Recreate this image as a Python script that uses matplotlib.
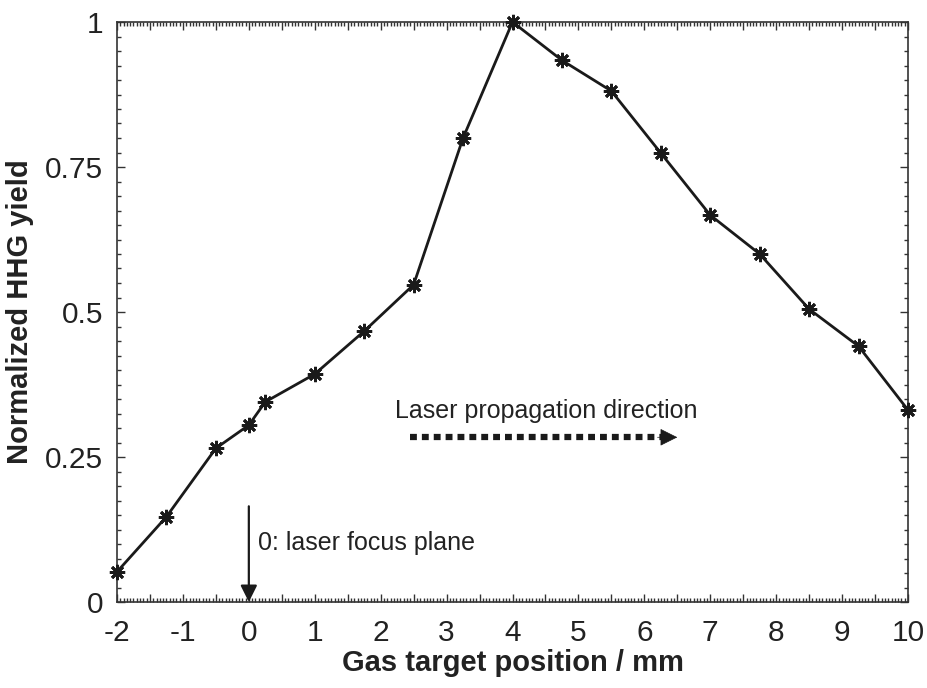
import matplotlib
matplotlib.use("Agg")
import matplotlib.pyplot as plt
from matplotlib.ticker import MultipleLocator
import numpy as np

positions = [-2, -1.25, -0.5, 0, 0.25, 1, 1.75, 2.5, 3.25, 4, 4.75, 5.5, 6.25, 7, 7.75, 8.5, 9.25, 10]
yields = [0.052, 0.147, 0.265, 0.305, 0.345, 0.393, 0.467, 0.547, 0.800, 1.000,
          0.934, 0.881, 0.774, 0.667, 0.600, 0.505, 0.441, 0.331]

xtick_vals = list(np.arange(-2, 10.01, 0.5))
xtick_labels = [str(int(v)) if float(v).is_integer() else "" for v in xtick_vals]
ytick_vals = [0, 0.25, 0.5, 0.75, 1]
ytick_labels = ["0", "0.25", "0.5", "0.75", "1"]

plt.rcParams['font.family'] = ['Liberation Sans', 'DejaVu Sans']

fig = plt.figure(figsize=(9.28, 6.88), dpi=100)
ax = fig.add_axes([117/928, 1-602/688, (908-117)/928, (602-22)/688])

ax.plot(positions, yields, color='#1a1a1a', lw=2.0, marker=(8, 2, 0),
        markersize=11, markeredgewidth=2.0, markeredgecolor='#1a1a1a', clip_on=False, zorder=3)

ax.set_xlim(-2, 10)
ax.set_ylim(0, 1)

ax.set_xticks(xtick_vals)
ax.set_xticklabels(xtick_labels)
ax.xaxis.set_minor_locator(MultipleLocator(0.05))
ax.set_yticks(ytick_vals)
ax.set_yticklabels(ytick_labels)
ax.yaxis.set_minor_locator(MultipleLocator(0.025))

ax.tick_params(which='both', direction='in', top=True, right=True, color='#333333', width=1.0)
ax.tick_params(which='major', length=6, labelsize=21.5, labelcolor='#222222')
ax.tick_params(axis='x', which='major', pad=12)
ax.tick_params(axis='y', which='major', pad=10)
ax.tick_params(which='minor', length=3)
for s in ax.spines.values():
    s.set_linewidth(1.2)
    s.set_color('#333333')

ax.set_xlabel("Gas target position / mm", fontsize=21, fontweight='bold', color='#222222', labelpad=2)
ax.set_ylabel("Normalized HHG yield", fontsize=21, fontweight='bold', color='#222222')
ax.yaxis.set_label_coords(-83/791, 0.5)

# focus plane arrow
ax.annotate("", xy=(0, 0.0), xytext=(0, 0.165),
            arrowprops=dict(arrowstyle='-|>', color='#1a1a1a', lw=1.6, mutation_scale=25,
                            shrinkA=0, shrinkB=0))
ax.text(0.14, 0.102, "0: laser focus plane", fontsize=18, va='center', ha='left', color='#222222')

# propagation direction
ax.text(2.22, 0.33, "Laser propagation direction", fontsize=18, va='center', ha='left', color='#222222')
ax.plot([2.45, 6.25], [0.284, 0.284], color='#1a1a1a', lw=4.5, ls=(0, (1.1, 0.8)),
        solid_capstyle='butt', dash_capstyle='butt')
ax.annotate("", xy=(6.5, 0.284), xytext=(6.2, 0.284),
            arrowprops=dict(arrowstyle='-|>', color='#1a1a1a', lw=0.5, mutation_scale=28,
                            shrinkA=0, shrinkB=0))

fig.savefig("out.png", dpi=100)
